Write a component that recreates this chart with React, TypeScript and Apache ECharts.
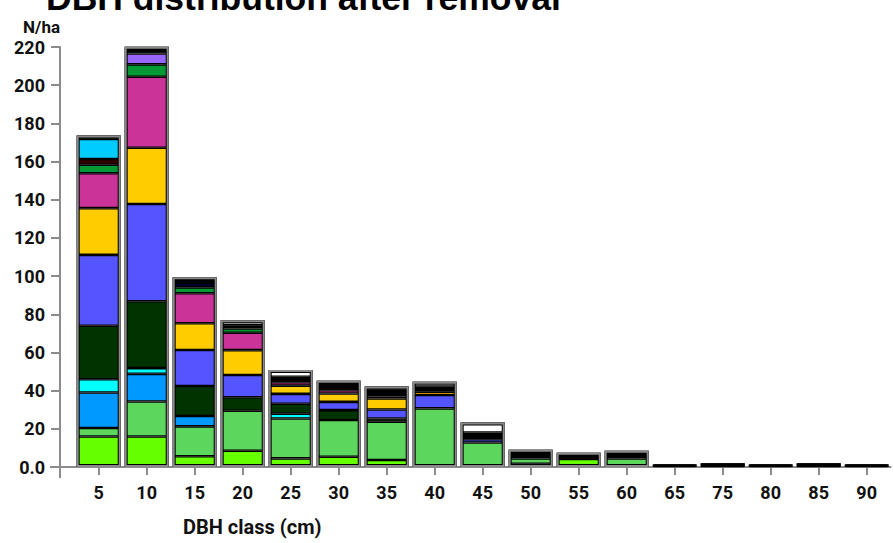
import React, { useEffect, useRef } from "react";
import * as echarts from "echarts";

const categories = ["5", "10", "15", "20", "25", "30", "35", "40", "45", "50", "55", "60", "65", "75", "80", "85", "90"];

const brightGreen = [16, 16, 5.6, 8.5, 4.5, 5.4, 3.7, null, null, 1.7, 4.2, null, null, null, null, null, null];
const mediumGreen = [4.4, 18.3, 15.7, 21, 20.9, 19.2, 20, 30.7, 12.8, 2.8, null, 4.5, null, null, null, null, null];
const blue = [18.6, 14.5, 5.4, null, null, null, null, null, null, null, null, null, null, null, null, null, null];
const cyan = [7, 3, null, null, 2.5, null, null, null, null, null, null, null, null, null, null, null, null];
const darkGreen = [28, 35, 15.7, 7, 5.2, 5.2, 1.7, null, null, null, null, null, null, 0.5, null, null, null];
const blueViolet = [37.1, 51, 18.9, 11.7, 5.2, 4.3, 4.7, 7, 1.8, null, null, null, null, null, null, null, null];
const yellow = [24.5, 29.4, 14, 13, 4.3, 4.4, 5.8, 1.7, null, null, null, null, null, null, null, null, null];
const magenta = [18.3, 37.2, 15.7, 9.1, 1.8, 1.7, 1, null, null, null, null, null, null, null, null, null, null];
const green = [4.4, 6.5, 3.1, 2.3, null, null, null, null, null, null, null, null, null, null, null, 0.5, null];
const darkRed = [3, null, null, null, null, null, null, null, null, null, null, null, null, null, null, null, null];
const skyBlue = [10.6, null, null, null, null, null, null, null, null, null, null, null, null, null, null, null, null];
const purple = [null, 5.7, null, null, null, null, null, null, null, null, null, null, null, null, null, null, null];
const navy = [null, null, 2.3, null, null, null, null, null, null, null, null, null, null, null, null, null, null];
const black = [1.7, 3.5, 3, 1.7, 2.9, 5, 3.5, 2.7, 3.5, 4.5, 3.3, 4, 1.4, 1.4, 1.4, 1.4, 1.4];
const white = [null, null, null, 2.6, 3.5, null, 1.8, 2.6, 5.2, null, null, null, null, null, null, null, null];

const yTicks = { min: 0, max: 220, interval: 20 };

const layers: { name: string; data: (number | null)[]; color: string }[] = [
  { name: "A", data: brightGreen, color: "#66ff00" },
  { name: "B", data: mediumGreen, color: "#5cd65c" },
  { name: "C", data: blue, color: "#0099ff" },
  { name: "D", data: cyan, color: "#00ffff" },
  { name: "E", data: darkGreen, color: "#003300" },
  { name: "F", data: blueViolet, color: "#5555ff" },
  { name: "G", data: yellow, color: "#ffcc00" },
  { name: "H", data: magenta, color: "#cc3399" },
  { name: "I", data: green, color: "#009933" },
  { name: "J", data: darkRed, color: "#330000" },
  { name: "K", data: skyBlue, color: "#00ccff" },
  { name: "L", data: purple, color: "#9966ff" },
  { name: "M", data: navy, color: "#000033" },
  { name: "N", data: black, color: "#000000" },
  { name: "O", data: white, color: "#ffffff" },
];

const totals = categories.map((_, i) =>
  layers.reduce((s, l) => s + (l.data[i] == null ? 0 : (l.data[i] as number)), 0)
);

const AXIS_GRAY = "#8c8c8c";
const GAP = "8.3%";

export default function App() {
  const ref = useRef<HTMLDivElement>(null);
  useEffect(() => {
    if (!ref.current) return;
    const chart = echarts.init(ref.current, null, { renderer: "svg" });
    const gridLeft = 74.7;
    const gridBottom = 76;
    const axisX = 60;
    const labelFont = {
      color: "#111",
      fontFamily: "Roboto",
      fontWeight: "bold",
      fontSize: 18,
    };
    const option: any = {
      animation: false,
      backgroundColor: "#ffffff",
      title: {
        text: "DBH distribution after removal",
        left: 46,
        top: -20.5,
        padding: 0,
        textStyle: {
          fontFamily: "Liberation Sans",
          fontWeight: "bold",
          fontSize: 35.5,
          color: "#000",
        },
      },
      grid: { left: gridLeft, right: 3.3, top: 47, bottom: gridBottom },
      xAxis: {
        type: "category",
        data: categories,
        axisLine: { show: true, lineStyle: { color: AXIS_GRAY, width: 2 } },
        axisTick: { show: true, alignWithLabel: true, interval: 0, length: 8, lineStyle: { color: AXIS_GRAY, width: 2 } },
        axisLabel: { interval: 0, margin: 16, ...labelFont },
      },
      yAxis: {
        type: "value",
        min: yTicks.min,
        max: yTicks.max,
        interval: yTicks.interval,
        offset: gridLeft - axisX,
        name: "N/ha",
        nameLocation: "end",
        nameGap: 12,
        nameTextStyle: { align: "right", ...labelFont, fontSize: 17 },
        splitLine: { show: false },
        axisLine: { show: true, lineStyle: { color: AXIS_GRAY, width: 2 } },
        axisTick: { show: true, length: 9, lineStyle: { color: AXIS_GRAY, width: 2 } },
        axisLabel: {
          margin: 15,
          ...labelFont,
          formatter: (v: number) => (v === 0 ? "0.0" : String(v)),
        },
      },
      graphic: [
        {
          type: "line",
          shape: { x1: 50, y1: 543 - gridBottom, x2: gridLeft, y2: 543 - gridBottom },
          style: { stroke: AXIS_GRAY, lineWidth: 2 },
          z: 10,
        },
        {
          type: "line",
          shape: { x1: axisX, y1: 543 - gridBottom, x2: axisX, y2: 543 - gridBottom + 11 },
          style: { stroke: AXIS_GRAY, lineWidth: 2 },
          z: 10,
        },
        {
          type: "text",
          left: 183,
          top: 517,
          style: {
            text: "DBH class (cm)",
            fill: "#111",
            font: "bold 20px Roboto",
          },
        },
      ],
      series: [
        ...layers.map((l) => ({
          name: l.name,
          type: "bar",
          stack: "dbh",
          data: l.data,
          barCategoryGap: GAP,
          barGap: "-100%",
          z: 2,
          itemStyle: { color: l.color, borderColor: "#000", borderWidth: 1.3 },
        })),
        {
          name: "outlineBlack",
          type: "bar",
          data: totals,
          barCategoryGap: GAP,
          barGap: "-100%",
          z: 3,
          silent: true,
          itemStyle: { color: "rgba(0,0,0,0)", borderColor: "#000", borderWidth: 3 },
        },
        {
          name: "outlineGray",
          type: "bar",
          data: totals.map((t) => (t < 3 ? { value: t, itemStyle: { borderWidth: 0 } } : t)),
          barCategoryGap: GAP,
          barGap: "-100%",
          z: 4,
          silent: true,
          itemStyle: { color: "rgba(0,0,0,0)", borderColor: "#8a8a8a", borderWidth: 2 },
        },
      ],
    };
    chart.setOption(option);
    return () => chart.dispose();
  }, []);
  return <div ref={ref} style={{ width: 894, height: 543, position: "absolute", left: 0, top: 0 }} />;
}
